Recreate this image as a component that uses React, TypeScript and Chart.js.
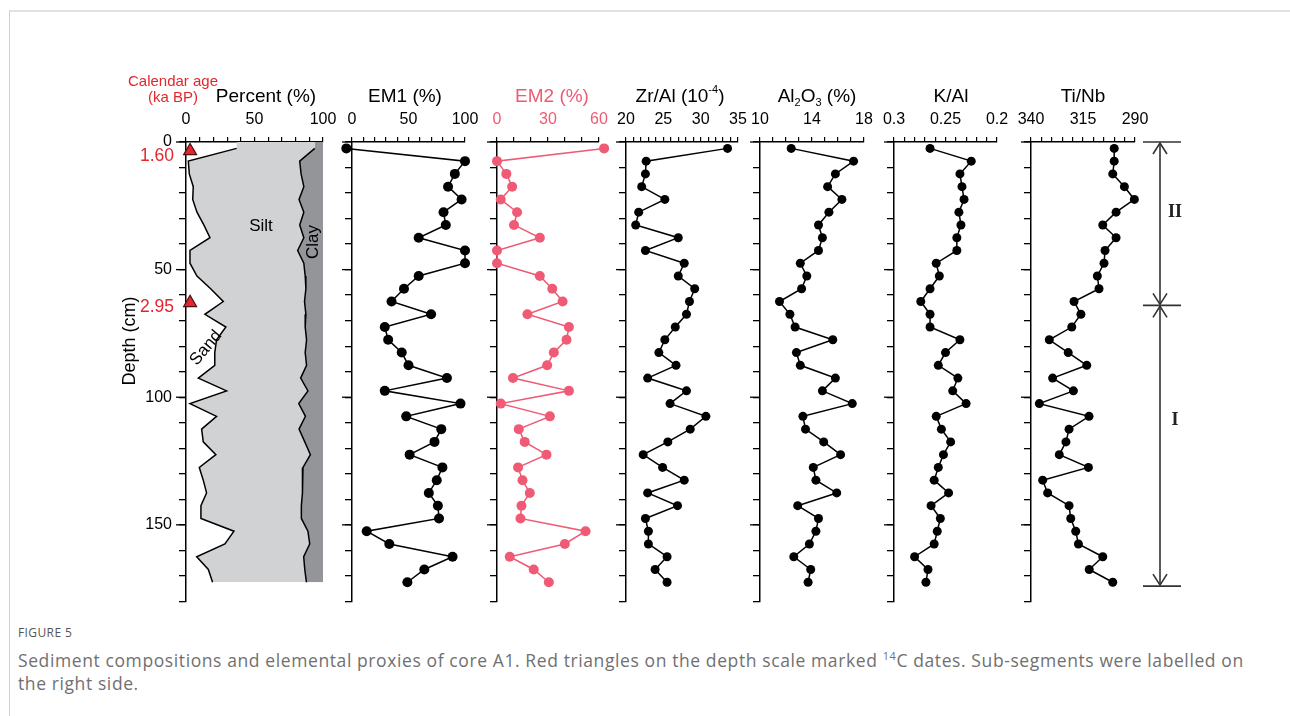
import React, { useEffect, useRef } from 'react';
import { Chart, registerables } from 'chart.js';

Chart.register(...registerables);

// ---------------- data ----------------
const depths = [
  2.5, 7.5, 12.5, 17.5, 22.5, 27.5, 32.5, 37.5, 42.5, 47.5, 52.5, 57.5, 62.5, 67.5, 72.5, 77.5, 82.5, 87.5,
  92.5, 97.5, 102.5, 107.5, 112.5, 117.5, 122.5, 127.5, 132.5, 137.5, 142.5, 147.5, 152.5, 157.5, 162.5, 167.5, 172.5,
];
// grain-size profile: the first row is the core top (0 cm), filled but without an outline
const profileDepths = [
  0, 2.5, 7.5, 12.5, 17.5, 22.5, 27.5, 32.5, 37.5, 42.5, 47.5, 52.5, 57.5, 62.5, 67.5, 72.5, 77.5, 82.5, 87.5,
  92.5, 97.5, 102.5, 107.5, 112.5, 117.5, 122.5, 127.5, 132.5, 137.5, 142.5, 147.5, 152.5, 157.5, 162.5, 167.5, 172.5,
];
const sandPercent = [
  37, 37, 1.7, 2.4, 5.3, 4.9, 8, 13, 17.5, 2.9, 2.9, 8, 18, 27.2, 13.8, 29.1, 22.3, 21, 21,
  9, 29.6, 2.9, 22.3, 11.4, 12.6, 21.8, 9.7, 12.6, 15, 10.9, 10.9, 35, 28.4, 7.8, 16.3, 19.4,
];
const sandSiltPercent = [
  94, 94, 83, 84, 86, 82.5, 86, 83, 86, 81.5, 86, 87, 87.5, 86.5, 87.5, 87, 88, 87, 88,
  83.7, 89, 82.3, 87.2, 82.5, 86.7, 90.8, 85.4, 85, 85, 84.2, 84.2, 89, 90.3, 85.9, 86.7, 87.9,
];
const em1 = [
  -5, 100, 91, 85, 97, 81, 83, 59, 100, 100, 59, 46, 35, 70, 29, 32, 44, 50, 84, 29, 96, 48, 79, 73, 51, 80,
  75, 68, 76, 77, 13, 33, 89, 64, 49,
];
const em2 = [
  63, 0, 5.5, 8.9, 2.2, 11.8, 10, 25.2, 0, 0, 25.2, 32.5, 38.6, 17.9, 42.3, 40.9, 33.4, 29.5, 9.4, 42.3, 2.2,
  31.1, 12.8, 16.3, 29.1, 12.4, 15, 19.3, 14.4, 13.8, 52.1, 39.9, 7.5, 21.6, 30.5,
];
const zrAl = [
  33.6, 22.7, 22.6, 22.1, 25.2, 21.7, 21.3, 27.0, 22.6, 27.8, 27.0, 29.2, 28.5, 28.1, 26.6, 25.2, 24.4, 26.7,
  22.9, 28.1, 25.9, 30.7, 28.6, 25.6, 22.3, 24.9, 27.8, 22.9, 26.9, 22.6, 23.0, 23.0, 25.5, 23.9, 25.5,
];
const al2o3 = [
  12.4, 17.2, 15.8, 15.2, 16.3, 15.3, 14.5, 14.8, 14.5, 13.1, 13.6, 13.2, 11.5, 12.3, 12.7, 15.6, 12.8, 13.1,
  15.8, 14.8, 17.1, 13.3, 13.5, 14.9, 16.2, 14.1, 14.3, 15.9, 12.9, 14.5, 14.3, 13.8, 12.6, 13.9, 13.7,
];
const kAl = [
  0.265, 0.225, 0.236, 0.234, 0.232, 0.237, 0.235, 0.239, 0.239, 0.259, 0.256, 0.265, 0.274, 0.265, 0.265,
  0.236, 0.25, 0.257, 0.238, 0.243, 0.23, 0.259, 0.254, 0.245, 0.252, 0.257, 0.261, 0.247, 0.264, 0.255,
  0.258, 0.261, 0.28, 0.267, 0.269,
];
const tiNb = [
  300, 300, 300.7, 295.1, 290.3, 299.1, 305.5, 299.1, 304.4, 304.9, 308.1, 307.3, 319.3, 316, 320.4, 331.2,
  322.1, 313.2, 329.6, 319.6, 336, 312.1, 321.7, 323.2, 326.4, 312.4, 334.4, 332, 321.7, 320.9, 318.5, 317.2,
  305.5, 312, 300.7,
];
const dateDepths = [3.5, 63];
const dateMarkerPercent = [3, 3];
const dateAges = ['1.60', '2.95'];
const unitBounds = [0, 64, 174];
const unitLabels = ['II', 'I'];

const depthTickLabels = [0, 50, 100, 150];
const pctTickLabels = [0, 50, 100];
const em1TickLabels = [0, 50, 100];
const em2TickLabels = [0, 30, 60];
const zrTickLabels = [20, 25, 30, 35];
const alTickLabels = [10, 14, 18];
const kTickLabels = [0.3, 0.25, 0.2];
const tiTickLabels = [340, 315, 290];

// ---------------- style ----------------
const FONT = '"Liberation Sans", Arial, Helvetica, sans-serif';
const SERIF = '"Liberation Serif", "Times New Roman", serif';
const RED = '#e3262d';
const PINK = '#ef5a74';
const SILT = '#d1d2d4';
const CLAY = '#939598';

const CANVAS_TOP = 60;
const PLOT_TOP = 142;
const PLOT_BOTTOM = 606;
const AXIS_H = PLOT_TOP - CANVAS_TOP;
const PAD_BOTTOM = 12;
const CANVAS_H = PLOT_BOTTOM - CANVAS_TOP + PAD_BOTTOM;
const TITLE_Y = 97;
const TITLE_SIZE = 19;
const TICK_SIZE = 16;
const UNIT_LABEL_FRACTION = [0.43, 0.41];
const DATE_LABEL_DY = [5, 4];
const DATE_LABEL_SIZE = 17.5;

type Part = { t: string; sup?: boolean; sub?: boolean };

function drawRich(
  ctx: CanvasRenderingContext2D,
  parts: Part[],
  x: number,
  y: number,
  size: number,
  color: string,
  family: string,
  align: 'left' | 'center' | 'right' = 'center',
  rotation = 0,
  weight = 'normal'
) {
  ctx.save();
  ctx.translate(x, y);
  ctx.rotate(rotation);
  const small = Math.round(size * 0.6);
  const fontFor = (p: Part) => `${weight} ${p.sup || p.sub ? small : size}px ${family}`;
  let total = 0;
  const ws = parts.map((p) => {
    ctx.font = fontFor(p);
    const w = ctx.measureText(p.t).width;
    total += w;
    return w;
  });
  let cx = align === 'center' ? -total / 2 : align === 'right' ? -total : 0;
  ctx.fillStyle = color;
  ctx.textBaseline = 'middle';
  ctx.textAlign = 'left';
  parts.forEach((p, i) => {
    ctx.font = fontFor(p);
    const dy = p.sup ? -size * 0.38 : p.sub ? size * 0.32 : 0;
    ctx.fillText(p.t, cx, dy);
    cx += ws[i];
  });
  ctx.restore();
}

type PanelDef = {
  id: string;
  plotLeft: number;
  plotRight: number;
  padLeft: number;
  padRight: number;
  min: number;
  max: number;
  step: number;
  reverse?: boolean;
  tickLabels: number[];
  tickColor: string;
  title: Part[];
  titleX: number;
  titleColor: string;
  values?: number[];
  color?: string;
  radius?: number;
  depthLabels?: boolean;
};

const PANELS: PanelDef[] = [
  { id: 'pct', plotLeft: 186, plotRight: 323, padLeft: 90, padRight: 25, min: 0, max: 100, step: 10,
    tickLabels: pctTickLabels, tickColor: '#000', title: [{ t: 'Percent (%)' }], titleX: 266, titleColor: '#000', depthLabels: true },
  { id: 'em1', plotLeft: 352, plotRight: 465, padLeft: 30, padRight: 25, min: 0, max: 100, step: 10,
    tickLabels: em1TickLabels, tickColor: '#000', title: [{ t: 'EM1 (%)' }], titleX: 405, titleColor: '#000',
    values: em1, color: '#000', radius: 5 },
  { id: 'em2', plotLeft: 497, plotRight: 599, padLeft: 30, padRight: 25, min: 0, max: 60, step: 10,
    tickLabels: em2TickLabels, tickColor: PINK, title: [{ t: 'EM2 (%)' }], titleX: 552, titleColor: PINK,
    values: em2, color: PINK, radius: 5 },
  { id: 'zr', plotLeft: 626, plotRight: 738, padLeft: 30, padRight: 25, min: 20, max: 35, step: 1,
    tickLabels: zrTickLabels, tickColor: '#000', title: [{ t: 'Zr/Al (10' }, { t: '-4', sup: true }, { t: ')' }], titleX: 680,
    titleColor: '#000', values: zrAl, color: '#000', radius: 4.5 },
  { id: 'al', plotLeft: 760, plotRight: 864, padLeft: 30, padRight: 25, min: 10, max: 18, step: 1,
    tickLabels: alTickLabels, tickColor: '#000',
    title: [{ t: 'Al' }, { t: '2', sub: true }, { t: 'O' }, { t: '3', sub: true }, { t: ' (%)' }], titleX: 817,
    titleColor: '#000', values: al2o3, color: '#000', radius: 4.5 },
  { id: 'k', plotLeft: 894, plotRight: 997, padLeft: 30, padRight: 25, min: 0.2, max: 0.3, step: 0.01, reverse: true,
    tickLabels: kTickLabels, tickColor: '#000', title: [{ t: 'K/Al' }], titleX: 951, titleColor: '#000',
    values: kAl, color: '#000', radius: 4.5 },
  { id: 'ti', plotLeft: 1031, plotRight: 1135, padLeft: 30, padRight: 75, min: 290, max: 340, step: 5, reverse: true,
    tickLabels: tiTickLabels, tickColor: '#000', title: [{ t: 'Ti/Nb' }], titleX: 1083, titleColor: '#000',
    values: tiNb, color: '#000', radius: 4.5 },
];

function buildConfig(panel: PanelDef, canvasLeft: number): any {
  const toX = (px: number) => px - canvasLeft;
  const toY = (py: number) => py - CANVAS_TOP;

  const overlay = {
    id: 'overlay_' + panel.id,
    afterDraw(chart: any) {
      const ctx: CanvasRenderingContext2D = chart.ctx;
      const area = chart.chartArea;
      const ys = chart.scales.y;
      ctx.save();
      ctx.strokeStyle = '#000';
      ctx.lineWidth = 1.3;
      depthTickLabels.forEach((d) => {
        const y = ys.getPixelForValue(d);
        ctx.beginPath();
        ctx.moveTo(area.left - 10, y);
        ctx.lineTo(area.left, y);
        ctx.stroke();
      });
      ctx.restore();

      drawRich(ctx, panel.title, toX(panel.titleX), toY(TITLE_Y), TITLE_SIZE, panel.titleColor, FONT);

      if (panel.id === 'pct') {
        drawRich(ctx, [{ t: 'Calendar age' }], toX(173), toY(82), 15, RED, FONT);
        drawRich(ctx, [{ t: '(ka BP)' }], toX(173), toY(98), 15, RED, FONT);
        dateDepths.forEach((d, i) => {
          drawRich(ctx, [{ t: dateAges[i] }], area.left - 12, ys.getPixelForValue(d) + DATE_LABEL_DY[i], DATE_LABEL_SIZE, RED, FONT, 'right');
        });
        drawRich(ctx, [{ t: 'Depth (cm)' }], toX(130), toY(341), 18, '#000', FONT, 'center', -Math.PI / 2);
        drawRich(ctx, [{ t: 'Silt' }], toX(261), toY(226), 17, '#000', FONT);
        drawRich(ctx, [{ t: 'Clay' }], toX(313), toY(242), 17, '#000', FONT, 'center', -Math.PI / 2);
        drawRich(ctx, [{ t: 'Sand' }], toX(206), toY(348), 17, '#000', FONT, 'center', (-50 * Math.PI) / 180);
      }

      if (panel.id === 'ti') {
        const yb = unitBounds.map((d) => ys.getPixelForValue(d));
        const ax = toX(1160);
        ctx.save();
        ctx.strokeStyle = '#333';
        ctx.lineWidth = 1.6;
        yb.forEach((y) => {
          ctx.beginPath();
          ctx.moveTo(toX(1143), y);
          ctx.lineTo(toX(1181), y);
          ctx.stroke();
        });
        for (let i = 0; i < yb.length - 1; i++) {
          const y0 = yb[i] + 1;
          const y1 = yb[i + 1] - 1;
          ctx.beginPath();
          ctx.moveTo(ax, y0);
          ctx.lineTo(ax, y1);
          ctx.stroke();
          ctx.beginPath();
          ctx.moveTo(ax - 7, y0 + 11);
          ctx.lineTo(ax, y0);
          ctx.lineTo(ax + 7, y0 + 11);
          ctx.moveTo(ax - 7, y1 - 11);
          ctx.lineTo(ax, y1);
          ctx.lineTo(ax + 7, y1 - 11);
          ctx.stroke();
          const ly = yb[i] + (yb[i + 1] - yb[i]) * UNIT_LABEL_FRACTION[i];
          drawRich(ctx, [{ t: unitLabels[i] }], toX(1175), ly, 18, '#222', SERIF, 'center', 0, 'bold');
        }
        ctx.restore();
      }
    },
  };

  const labelFor = (list: number[]) => (v: any) => {
    const hit = list.find((t) => Math.abs(t - Number(v)) < 1e-6);
    return hit === undefined ? '' : String(hit);
  };

  let datasets: any[];
  if (panel.id === 'pct') {
    const areaOnly = { borderWidth: 0, borderColor: 'rgba(0,0,0,0)', pointRadius: 0, pointHoverRadius: 0, tension: 0 };
    const outline = { borderColor: '#000', borderWidth: 1.5, pointRadius: 0, pointHoverRadius: 0, tension: 0, fill: false };
    datasets = [
      // 0: sand/silt boundary area, filled up to dataset 1 (silt)
      { ...areaOnly, data: profileDepths.map((d, i) => ({ x: sandPercent[i], y: d })), backgroundColor: SILT, fill: '+1', order: 3 },
      // 1: silt/clay boundary area, filled to 100 % (clay)
      { ...areaOnly, data: profileDepths.map((d, i) => ({ x: sandSiltPercent[i], y: d })), backgroundColor: CLAY, fill: { value: 100 }, order: 4 },
      // 2, 3: outlines of the two boundaries (measured rows only)
      { ...outline, data: profileDepths.slice(1).map((d, i) => ({ x: sandPercent[i + 1], y: d })), order: 1 },
      { ...outline, data: profileDepths.slice(1).map((d, i) => ({ x: sandSiltPercent[i + 1], y: d })), order: 1 },
      // 4: radiocarbon date markers
      {
        data: dateDepths.map((d, i) => ({ x: dateMarkerPercent[i], y: d })),
        showLine: false, pointStyle: 'triangle', pointRadius: 7.5, pointHoverRadius: 15,
        backgroundColor: RED, borderColor: '#4a1212', borderWidth: 1, pointBorderWidth: 1.2,
        clip: false, order: -1,
      },
    ];
  } else {
    datasets = [
      {
        data: depths.map((d, i) => ({ x: panel.values![i], y: d })),
        borderColor: panel.color, backgroundColor: panel.color, borderWidth: 1.5,
        // hover radius only widens the visibility margin so marks just outside the axis range are still drawn
        pointRadius: panel.radius, pointHoverRadius: 16, pointBorderWidth: 0,
        fill: false, clip: false, tension: 0,
      },
    ];
  }

  return {
    type: 'line',
    data: { datasets },
    options: {
      indexAxis: 'y',
      responsive: false,
      animation: false,
      events: [],
      layout: { padding: { left: 0, right: panel.padRight, top: 0, bottom: PAD_BOTTOM } },
      plugins: { legend: { display: false }, tooltip: { enabled: false }, title: { display: false } },
      scales: {
        x: {
          type: 'linear',
          position: 'top',
          min: panel.min,
          max: panel.max,
          reverse: !!panel.reverse,
          afterFit: (s: any) => {
            s.height = AXIS_H;
          },
          ticks: {
            stepSize: panel.step,
            autoSkip: false,
            maxRotation: 0,
            minRotation: 0,
            padding: 8,
            color: panel.tickColor,
            font: { family: FONT, size: TICK_SIZE },
            callback: labelFor(panel.tickLabels),
          },
          grid: { drawOnChartArea: false, drawTicks: true, tickLength: 5, color: '#000', lineWidth: 1.2 },
          border: { display: true, color: '#000', width: 1.5 },
        },
        y: {
          type: 'linear',
          position: 'left',
          min: 0,
          max: 180,
          reverse: true,
          afterFit: (s: any) => {
            s.width = panel.padLeft;
          },
          ticks: {
            stepSize: 10,
            autoSkip: false,
            padding: 7,
            color: '#000',
            font: { family: FONT, size: TICK_SIZE },
            callback: panel.depthLabels ? labelFor(depthTickLabels) : () => '',
          },
          grid: { drawOnChartArea: false, drawTicks: true, tickLength: 7, color: '#000', lineWidth: 1.3 },
          border: { display: true, color: '#000', width: 1.5 },
        },
      },
    },
    plugins: [overlay],
  };
}

function PanelChart({ panel }: { panel: PanelDef }) {
  const ref = useRef<HTMLCanvasElement>(null);
  const width = Math.round(panel.padLeft + panel.plotRight - panel.plotLeft + panel.padRight);
  const left = panel.plotLeft - panel.padLeft;
  useEffect(() => {
    const chart = new Chart(ref.current as HTMLCanvasElement, buildConfig(panel, left));
    return () => chart.destroy();
  }, []);
  return (
    <canvas
      ref={ref}
      width={width}
      height={CANVAS_H}
      style={{ position: 'absolute', left, top: CANVAS_TOP, width, height: CANVAS_H }}
    />
  );
}

export default function App() {
  return (
    <div style={{ position: 'absolute', left: 0, top: 0, width: 1290, height: 716, background: '#fff', overflow: 'hidden' }}>
      <div
        style={{
          position: 'absolute', left: 9, top: 10, right: 0, bottom: 0,
          borderTop: '2px solid #e2e2e2', borderLeft: '1px solid #d0d0d0',
        }}
      />
      {PANELS.map((p) => (
        <PanelChart key={p.id} panel={p} />
      ))}
      <div
        style={{
          position: 'absolute', left: 18, top: 624, fontFamily: '"Open Sans", sans-serif', fontSize: 12,
          color: '#555', letterSpacing: 0.4, whiteSpace: 'nowrap',
        }}
      >
        FIGURE 5
      </div>
      <div
        style={{
          position: 'absolute', left: 18, top: 649, fontFamily: '"Open Sans", sans-serif', fontSize: 17.5,
          color: '#707070', lineHeight: '23px', whiteSpace: 'nowrap', letterSpacing: 0.6,
        }}
      >
        Sediment compositions and elemental proxies of core A1. Red triangles on the depth scale marked{' '}
        <sup style={{ fontSize: 11, lineHeight: 0, verticalAlign: 'super' }}>14</sup>C dates. Sub-segments were labelled on
        <br />
        the right side.
      </div>
    </div>
  );
}
